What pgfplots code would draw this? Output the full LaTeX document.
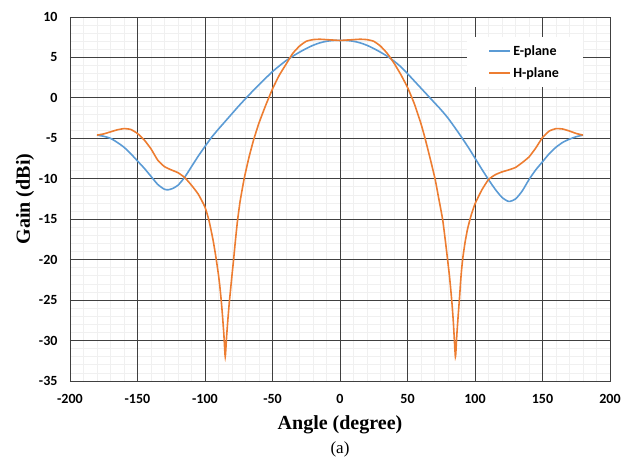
\documentclass[border=0pt]{standalone}
\usepackage{fontspec}
\setmainfont{Liberation Serif}
\newfontfamily\calib{Carlito}
\usepackage{pgfplots}
\pgfplotsset{compat=1.18}
\definecolor{eblue}{HTML}{5B9BD5}
\definecolor{horange}{HTML}{ED7D31}
\begin{document}
\begin{tikzpicture}
\path[use as bounding box] (-70pt,-75pt) rectangle (565pt,381pt);
\begin{axis}[
  width=540pt, height=364pt, scale only axis,
  xmin=-200, xmax=200, ymin=-35, ymax=10,
  xtick distance=50, ytick distance=5,
  minor x tick num=4, minor y tick num=4,
  xminorgrids=true, xmajorgrids=false,
  yminorgrids=true, ymajorgrids=true,
  extra x ticks={-150,-100,-50,0,50,100,150},
  extra x tick labels={},
  extra x tick style={grid=major},
  major grid style={black!75, line width=0.8pt},
  minor grid style={black!6, line width=0.8pt},
  axis line style={black!75, line width=0.8pt},
  major tick length=0pt, minor tick length=0pt,
  /pgf/number format/assume math mode=true,
  tick label style={font=\calib\bfseries\fontsize{14}{16}\selectfont},
  xticklabel style={anchor=center, yshift=-18pt},
  yticklabel style={xshift=-9pt},
  xlabel={\textbf{Angle (degree)}},
  ylabel={\textbf{Gain (dBi)}},
  label style={font=\fontsize{20}{22}\selectfont},
  xlabel style={at={(axis description cs:0.5,0)}, anchor=center, yshift=-44pt},
  ylabel style={at={(axis description cs:0,0.5)}, anchor=center, yshift=45pt},
  legend style={at={(0.95,0.945)}, anchor=north east, draw=none, fill=white,
    font=\calib\bfseries\fontsize{14}{16}\selectfont,
    inner xsep=22pt, inner ysep=6pt, row sep=7pt},
  legend cell align=left,
  legend image code/.code={\draw[#1] (0pt,0pt) -- (21pt,0pt);},
]
\addplot[eblue, line width=1.6pt, smooth, tension=0.4] coordinates {
(-180,-4.6) (-175,-4.75) (-170,-5.0) (-165,-5.5) (-160,-6.1) (-155,-6.9) (-150,-7.8)
(-145,-8.7) (-140,-9.7) (-135,-10.7) (-130,-11.3) (-127,-11.35) (-124,-11.2) (-120,-10.8)
(-115,-9.8) (-110,-8.5) (-105,-7.2) (-100,-6.0) (-95,-4.85) (-90,-3.85) (-85,-2.9)
(-80,-1.95) (-75,-1.0) (-70,-0.1) (-65,0.78) (-60,1.62) (-55,2.45) (-50,3.25) (-45,3.95)
(-40,4.6) (-35,5.15) (-30,5.65) (-25,6.1) (-20,6.5) (-15,6.8) (-10,7.0) (-5,7.1) (0,7.1)
(5,7.1) (10,7.0) (15,6.8) (20,6.5) (25,6.1) (30,5.65) (35,5.15) (40,4.55) (45,3.85)
(50,3.0) (55,2.1) (60,1.2) (65,0.3) (70,-0.6) (75,-1.5) (80,-2.5) (85,-3.65) (90,-4.85)
(95,-6.1) (100,-7.45) (105,-8.8) (110,-10.1) (115,-11.3) (120,-12.3) (125,-12.8)
(130,-12.5) (135,-11.5) (140,-10.1) (145,-8.9) (150,-7.9) (155,-6.9) (160,-6.1)
(165,-5.5) (170,-5.1) (175,-4.8) (180,-4.6)
};
\addlegendentry{E-plane}
\addplot[horange, line width=1.6pt, smooth, tension=0.3] coordinates {
(-180,-4.6) (-175,-4.45) (-170,-4.2) (-165,-3.95) (-160,-3.8) (-155,-3.9) (-150,-4.4)
(-145,-5.2) (-140,-6.3) (-135,-7.7) (-130,-8.5) (-125,-8.9) (-120,-9.25) (-115,-9.85)
(-110,-10.8) (-105,-11.9) (-100,-13.5) (-97,-15.2) (-94,-17.6) (-92,-19.6) (-90,-21.9)
(-89,-23.3) (-88,-25.0) (-87,-27.0) (-86,-29.3) (-85,-32) (-84,-29.5) (-83,-27.3)
(-82,-25.3) (-81,-23.6) (-80,-21.9) (-79,-20.3) (-77.5,-17.7) (-76,-15.3) (-74,-12.8)
(-71,-10) (-67.5,-7.4) (-64,-5.2) (-60,-3.1) (-55,-0.9) (-50,1.1) (-45,2.8) (-40,4.15)
(-35,5.5) (-30,6.4) (-25,7.0) (-20,7.2) (-15,7.25) (-10,7.2) (-5,7.15) (0,7.1) (5,7.15)
(10,7.2) (15,7.25) (20,7.2) (25,7.0) (30,6.4) (35,5.5) (40,4.3) (45,2.9) (50,1.3)
(55,-0.7) (60,-3.2) (63,-5.0) (66.5,-7.3) (70.4,-10) (73,-12.3) (76,-15) (78,-17.6)
(79.7,-20) (81,-21.9) (82,-23.6) (83,-25.5) (84,-27.8) (85.5,-32) (86.5,-29.4)
(87.5,-27.0) (88.5,-24.8) (89.4,-22.6) (90.2,-21.0) (91.2,-19.5) (92.7,-17.8) (94.5,-16.2)
(97,-14.6) (100,-13.1) (105,-11.4) (110,-10.1) (115,-9.5) (120,-9.15) (125,-8.9)
(130,-8.6) (135,-8.0) (140,-7.3) (145,-6.2) (150,-4.9) (155,-4.1) (160,-3.8) (165,-3.85)
(170,-4.1) (175,-4.4) (180,-4.6)
};
\addlegendentry{H-plane}
\end{axis}
\node[font=\fontsize{17}{19}\selectfont] at (270pt,-68pt) {(a)};
\end{tikzpicture}
\end{document}
